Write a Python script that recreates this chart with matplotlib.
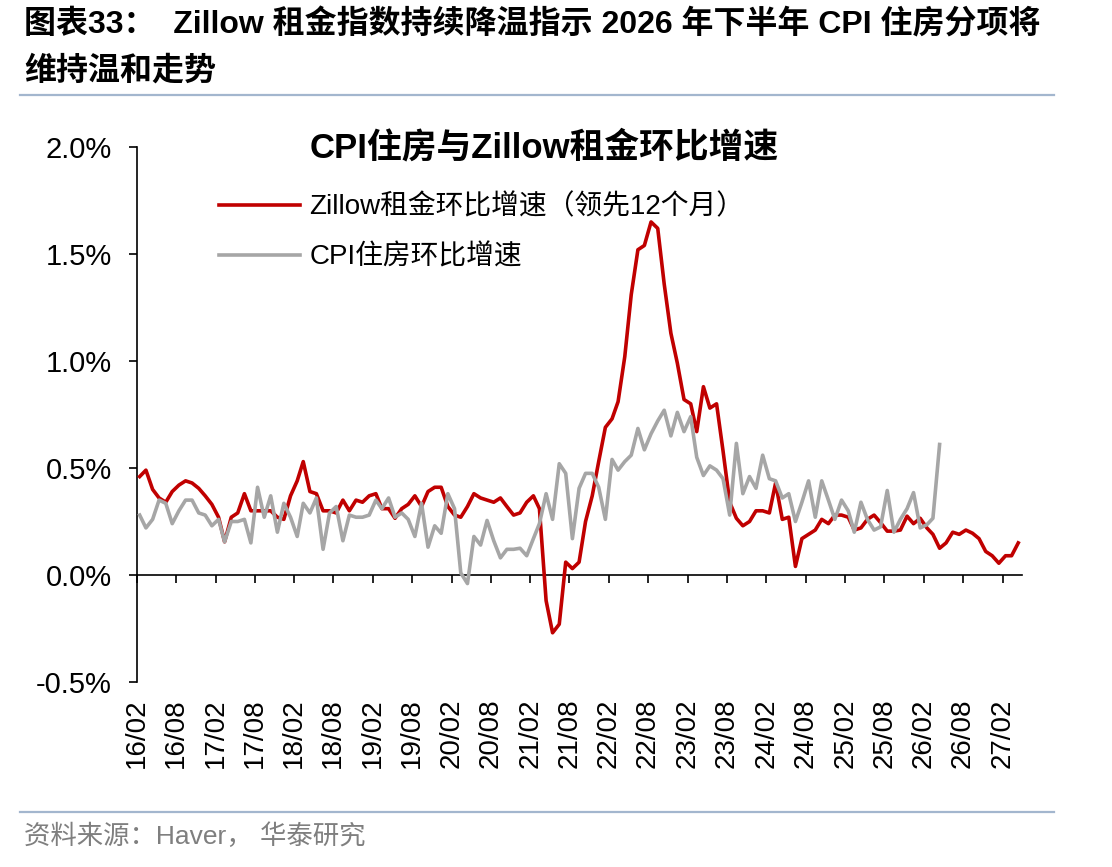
import matplotlib
matplotlib.use("Agg")

import matplotlib.dates as mdates
import matplotlib.pyplot as plt
import pandas as pd
from matplotlib.lines import Line2D
from matplotlib.ticker import FuncFormatter, MultipleLocator

plt.rcParams["font.family"] = ["Liberation Sans", "Noto Sans CJK SC"]

# monthly data, both series start 2016/02 (values in %)
START_MONTH = "2016-02-01"

# Zillow rent m/m, shifted 12 months ahead
zillow_mom = [
    0.46, 0.49, 0.40, 0.36, 0.34, 0.39, 0.42, 0.44, 0.43, 0.405, 0.37, 0.33,
    0.27, 0.155, 0.27, 0.29, 0.38, 0.30, 0.30, 0.30, 0.30, 0.27, 0.26, 0.37,
    0.44, 0.53, 0.39, 0.38, 0.30, 0.30, 0.29, 0.35, 0.30, 0.35, 0.34, 0.37,
    0.38, 0.31, 0.31, 0.265, 0.31, 0.33, 0.37, 0.32, 0.39, 0.41, 0.41, 0.32,
    0.28, 0.27, 0.32, 0.38, 0.36, 0.35, 0.34, 0.36, 0.32, 0.28, 0.29, 0.34,
    0.37, 0.31, -0.12, -0.27, -0.23, 0.06, 0.03, 0.06, 0.25, 0.37, 0.53, 0.69,
    0.73, 0.81, 1.02, 1.31, 1.52, 1.54, 1.65, 1.62, 1.36, 1.13, 0.99, 0.82,
    0.80, 0.67, 0.88, 0.78, 0.80, 0.58, 0.34, 0.265, 0.23, 0.25, 0.30, 0.30,
    0.29, 0.43, 0.26, 0.27, 0.04, 0.17, 0.19, 0.21, 0.26, 0.24, 0.28, 0.28,
    0.27, 0.21, 0.22, 0.26, 0.28, 0.245, 0.205, 0.205, 0.21, 0.275, 0.24, 0.265,
    0.22, 0.19, 0.125, 0.15, 0.20, 0.19, 0.21, 0.195, 0.17, 0.11, 0.09, 0.055,
    0.09, 0.09, 0.15,
]

# CPI shelter m/m
cpi_shelter_mom = [
    0.28, 0.22, 0.26, 0.35, 0.335, 0.24, 0.30, 0.35, 0.35, 0.29, 0.28, 0.23,
    0.26, 0.155, 0.25, 0.25, 0.26, 0.15, 0.41, 0.27, 0.37, 0.20, 0.335, 0.27,
    0.18, 0.335, 0.29, 0.36, 0.12, 0.29, 0.32, 0.16, 0.28, 0.27, 0.27, 0.28,
    0.35, 0.31, 0.36, 0.27, 0.29, 0.26, 0.18, 0.335, 0.13, 0.23, 0.195, 0.38,
    0.31, 0.01, -0.04, 0.18, 0.14, 0.255, 0.16, 0.08, 0.12, 0.12, 0.125, 0.09,
    0.17, 0.24, 0.38, 0.26, 0.52, 0.475, 0.17, 0.405, 0.475, 0.475, 0.41, 0.26,
    0.54, 0.49, 0.53, 0.56, 0.685, 0.585, 0.66, 0.72, 0.77, 0.65, 0.76, 0.67,
    0.74, 0.55, 0.465, 0.51, 0.49, 0.45, 0.28, 0.615, 0.38, 0.46, 0.405, 0.56,
    0.45, 0.44, 0.36, 0.38, 0.25, 0.34, 0.44, 0.27, 0.44, 0.35, 0.26, 0.35,
    0.30, 0.20, 0.34, 0.26, 0.21, 0.225, 0.395, 0.20, 0.26, 0.31, 0.385, 0.22,
    0.235, 0.265, 0.61,
]

series_labels = ["Zillow租金环比增速（领先12个月）", "CPI住房环比增速"]

HEADER = ["图表33：  Zillow 租金指数持续降温指示 2026 年下半年 CPI 住房分项将",
          "维持温和走势"]
CHART_TITLE = "CPI住房与Zillow租金环比增速"
SOURCE = "资料来源：Haver， 华泰研究"

RED = "#C00000"
GRAY = "#A6A6A6"
RULE = "#A3B6CE"


def month_dates(n):
    # points sit mid-month, ticks at month start
    return pd.date_range(START_MONTH, periods=n, freq="MS") + pd.Timedelta(days=14)


def main():
    fig = plt.figure(figsize=(11.12, 8.67), dpi=100)
    ax = fig.add_axes([0.1229, 0.2134, 0.7959, 0.6170])

    ax.plot(month_dates(len(zillow_mom)), zillow_mom, color=RED, lw=2.6,
            label=series_labels[0], zorder=3, solid_joinstyle="round")
    ax.plot(month_dates(len(cpi_shelter_mom)), cpi_shelter_mom, color=GRAY, lw=2.6,
            label=series_labels[1], zorder=4, solid_joinstyle="round")

    ax.set_ylim(-0.5, 2.0)
    ax.set_xlim(pd.Timestamp("2016-02-01"), pd.Timestamp("2027-05-01"))
    ax.yaxis.set_major_locator(MultipleLocator(0.5))
    ax.yaxis.set_major_formatter(FuncFormatter(lambda v, _: f"{v:.1f}%"))
    ax.tick_params(axis="y", length=6, width=1.2, labelsize=21, pad=12)

    for side in ("top", "right"):
        ax.spines[side].set_visible(False)
    ax.spines["left"].set_linewidth(1.2)
    ax.spines["bottom"].set_position(("data", 0))
    ax.spines["bottom"].set_linewidth(1.2)

    tick_dates = pd.date_range(START_MONTH, "2027-02-01", freq="6MS")
    ax.set_xticks(tick_dates)
    ax.tick_params(axis="x", direction="out", length=6, width=1.2, labelbottom=False)

    # category labels sit under the plot area, not at the zero line
    sec = ax.secondary_xaxis(0.0)
    sec.set_xticks(tick_dates)
    sec.xaxis.set_major_formatter(mdates.DateFormatter("%y/%m"))
    sec.spines["bottom"].set_visible(False)
    sec.tick_params(axis="x", length=0, labelsize=20, pad=12, labelrotation=90)

    ax.legend(loc="upper left", bbox_to_anchor=(0.197, 0.776),
              bbox_transform=fig.transFigure, frameon=False, fontsize=20,
              handlelength=2.9, handletextpad=0.35, labelspacing=0.85,
              borderpad=0, borderaxespad=0)

    fig.text(0.489, 0.830, CHART_TITLE, ha="center", va="center",
             fontsize=25, fontweight="bold")

    fig.text(0.022, 0.971, HEADER[0], ha="left", va="center",
             fontsize=23, fontweight="bold")
    fig.text(0.022, 0.918, HEADER[1], ha="left", va="center",
             fontsize=23, fontweight="bold")
    fig.add_artist(Line2D([0.018, 0.948], [0.8904, 0.8904], color=RULE, lw=1.6,
                          transform=fig.transFigure))
    fig.add_artist(Line2D([0.018, 0.948], [0.0634, 0.0634], color=RULE, lw=1.6,
                          transform=fig.transFigure))
    fig.text(0.022, 0.0358, SOURCE, ha="left", va="center", fontsize=19,
             color="#7F7F7F")

    fig.savefig("out.png", dpi=100)
    plt.close(fig)


if __name__ == "__main__":
    main()
